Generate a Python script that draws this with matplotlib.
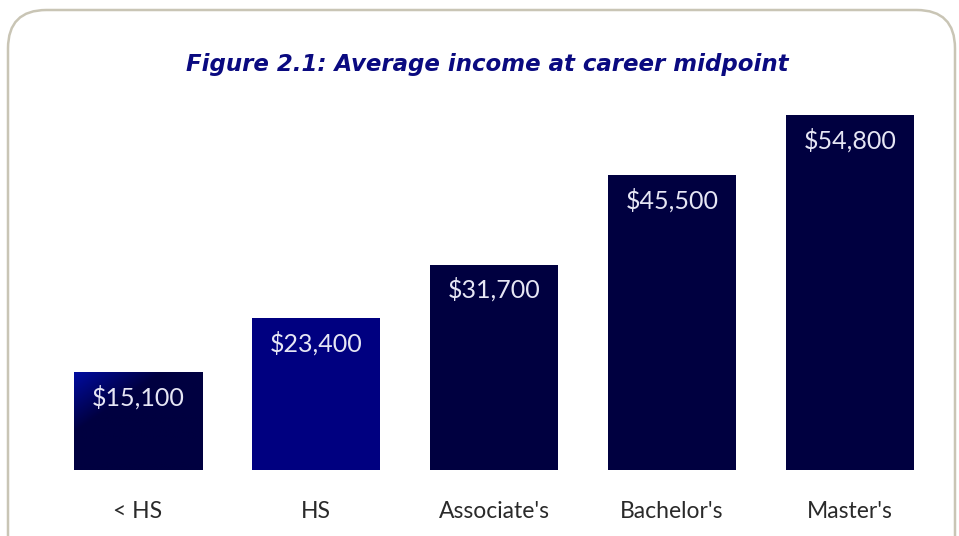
import matplotlib.pyplot as plt
import numpy as np
from matplotlib.patches import FancyBboxPatch

categories = ["< HS", "HS", "Associate's", "Bachelor's", "Master's"]
income = [15100, 23400, 31700, 45500, 54800]
labels = ["$15,100", "$23,400", "$31,700", "$45,500", "$54,800"]
colors = ["#000040", "#000080", "#000040", "#000040", "#000040"]

fig = plt.figure(figsize=(9.59, 5.36), dpi=100)
fig.patch.set_facecolor("white")

# rounded frame around the chart
frame = FancyBboxPatch((8 / 959, -0.2), 947 / 959, (536 - 10) / 536 + 0.2,
                       boxstyle="round,pad=0,rounding_size=0.04",
                       transform=fig.transFigure, facecolor="white",
                       edgecolor="#c9c5b5", linewidth=1.8,
                       mutation_aspect=959 / 536, zorder=-5)
fig.patches.append(frame)

ax = fig.add_axes([49 / 959, (536 - 470) / 536, 890 / 959, 370 / 536])
ax.set_facecolor("none")
ax.set_zorder(2)
x = np.arange(len(categories))
bars = ax.bar(x, income, width=0.72, color=colors)

# gradient on the first bar
b = bars[0]
gx, gy = np.meshgrid(np.linspace(0, 1, 100), np.linspace(0, 1, 100))
t = np.clip((gx * 0.8 + gy * 0.9), 0, 1)
c1 = np.array([0x00, 0x0c, 0xa0]) / 255
c2 = np.array([0x00, 0x00, 0x40]) / 255
w = np.clip(t / 0.55, 0, 1)[..., None]
img = c1 * (1 - w) + c2 * w
im = ax.imshow(img, extent=[b.get_x(), b.get_x() + b.get_width(), 0, b.get_height()],
               origin="upper", aspect="auto", zorder=3)
im.set_clip_path(b)
ax.set_xlim(-0.5, 4.5)
ax.set_ylim(0, 57100)

for xi, v, lab in zip(x, income, labels):
    ax.text(xi, v - 2000, lab, ha="center", va="top", color="#e6e6f4",
            fontsize=18, family="Lato", zorder=5)

for s in ax.spines.values():
    s.set_visible(False)
ax.set_yticks([])
ax.set_xticks(x)
ax.set_xticklabels(categories, fontsize=16.5, family="Lato", color="#2a2a2a")
ax.tick_params(axis="x", length=0, pad=22)

fig.text(487 / 959, 1 - 64 / 536, "Figure 2.1: Average income at career midpoint",
         ha="center", va="center", fontsize=16.5, fontweight="bold", style="italic",
         color="#0a0a80", family="DejaVu Sans")

fig.savefig("out.png", dpi=100)
